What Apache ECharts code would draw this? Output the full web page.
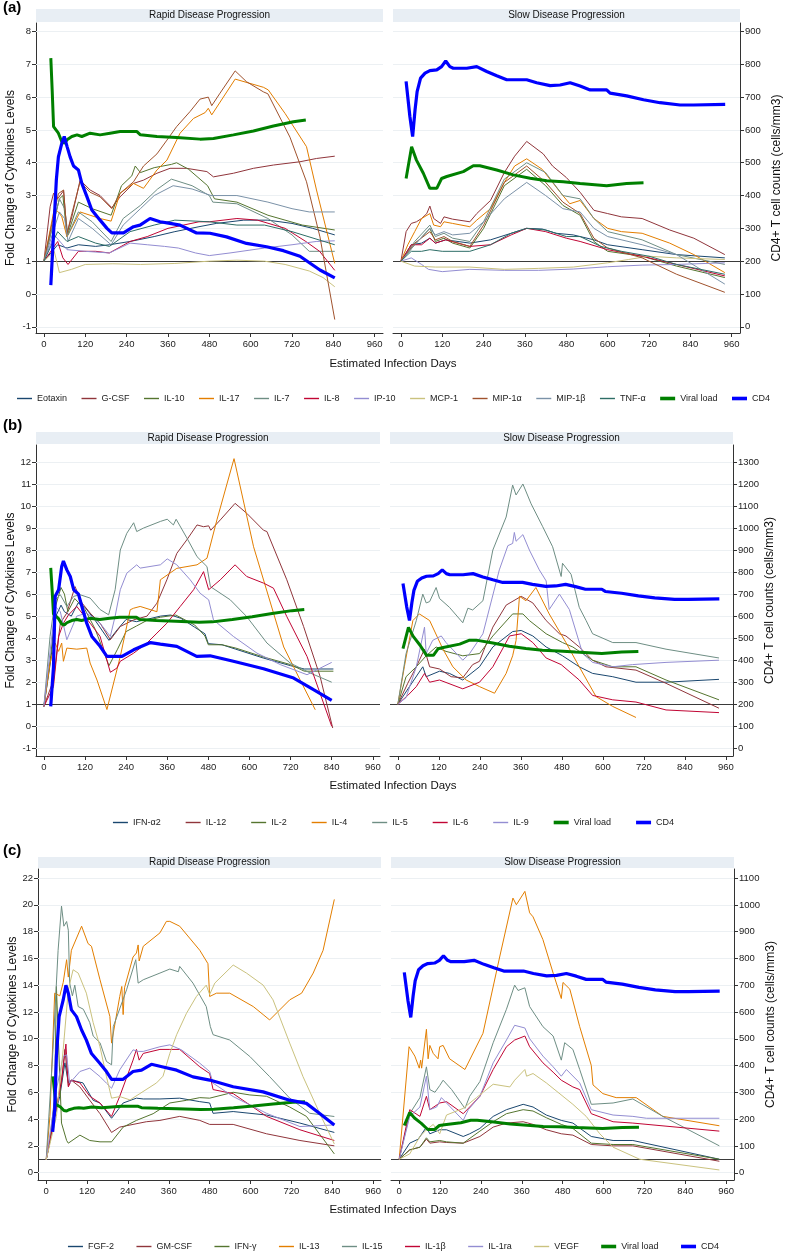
<!DOCTYPE html>
<html><head><meta charset="utf-8">
<script src="https://cdn.jsdelivr.net/npm/echarts@6/dist/echarts.min.js"></script>
<style>html,body{margin:0;padding:0;background:#fff}#c{width:787px;height:1259px}</style>
</head><body><div id="c"></div>
<script>
const FONT = '"Liberation Sans", Arial, sans-serif';
const xTicks = [0,120,240,360,480,600,720,840,960];

// ---------- shared lines ----------
const viralRapid = [[20,7.19],[24,6.2],[28,5.1],[35,5.0],[42,4.9],[52,4.64],[60,4.6],[67,4.7],[81,4.8],[96,4.85],[110,4.8],[134,4.9],[163,4.85],[192,4.9],[221,4.95],[270,4.95],[280,4.85],[328,4.8],[385,4.77],[453,4.72],[492,4.74],[550,4.85],[608,4.97],[666,5.12],[724,5.25],[760,5.3]];
const viralSlow = [[15,3.52],[31,4.49],[45,4.08],[65,3.68],[84,3.22],[104,3.22],[118,3.52],[133,3.58],[181,3.73],[210,3.91],[229,3.91],[278,3.78],[326,3.63],[375,3.53],[423,3.45],[471,3.42],[520,3.37],[597,3.3],[655,3.37],[704,3.39]];
const cd4Slow = [[15,748],[26,641],[34,580],[41,661],[47,717],[57,758],[70,773],[84,781],[104,783],[118,793],[130,810],[142,793],[152,788],[191,788],[220,793],[249,778],[278,765],[307,753],[365,753],[394,744],[433,735],[462,737],[491,744],[520,734],[549,722],[597,722],[607,712],[655,704],[704,692],[752,683],[810,676],[849,676],[941,678]];
const cd4RapidA = [[20,127],[28,285],[36,447],[42,518],[52,560],[59,580],[67,550],[76,518],[86,490],[100,478],[110,437],[125,396],[139,356],[163,325],[183,300],[197,286],[231,286],[260,305],[279,310],[308,330],[337,320],[366,315],[395,310],[443,286],[482,285],[530,274],[588,254],[646,244],[695,232],[743,215],[801,173],[844,149]];
const cd4RapidB = [[20,190],[28,370],[33,690],[43,720],[52,825],[57,850],[67,810],[77,780],[87,720],[101,700],[111,644],[125,568],[140,508],[164,463],[184,417],[228,417],[262,447],[311,480],[340,473],[388,463],[446,417],[485,420],[553,395],[641,361],[729,319],[787,266],[840,218]];
const cd4RapidC = [[19,153],[25,235],[30,435],[38,583],[50,645],[58,700],[65,670],[74,608],[89,583],[104,533],[118,495],[133,445],[158,408],[177,378],[192,349],[226,349],[255,378],[280,383],[309,405],[343,395],[383,383],[431,358],[480,346],[549,321],[637,302],[715,271],[764,259],[803,221],[846,178]];

// ---------- panel (a) ----------
const eotaxinR = [[0,1],[40,1.5],[67,1.4],[100,1.5],[150,1.45],[190,1.5],[250,1.6],[320,1.75],[380,1.9],[450,2.05],[500,2.15],[580,2.25],[650,2.25],[720,2.15],[780,2.0],[844,1.8]];
const gcsfR = [[0,1],[18,2.66],[28,3.07],[40,2.9],[57,3.15],[67,1.84],[81,2.35],[105,3.47],[134,3.17],[163,3.0],[197,2.63],[221,2.96],[260,3.37],[289,3.47],[328,3.68],[366,3.83],[414,3.83],[473,3.73],[492,3.57],[550,3.68],[608,3.83],[666,3.93],[743,4.03],[791,4.13],[844,4.2]];
const il10R = [[0,1],[45,2.9],[55,3.0],[67,1.75],[100,2.8],[140,2.6],[195,2.4],[225,3.3],[255,3.6],[265,3.9],[280,3.7],[320,3.85],[370,3.95],[385,4.0],[420,3.8],[475,3.3],[495,2.9],[560,2.8],[650,2.4],[750,2.1],[844,1.95]];
const il17R = [[0,1],[18,1.95],[30,2.6],[42,2.5],[52,2.35],[67,1.74],[105,2.5],[134,2.4],[163,2.3],[195,2.22],[221,3.07],[260,3.37],[289,3.22],[328,3.78],[357,4.08],[395,4.9],[434,5.35],[468,5.53],[477,5.66],[487,5.46],[555,6.55],[637,6.3],[651,6.22],[700,5.5],[762,4.49],[791,3.17],[844,0.93]];
const il7R = [[0,1],[45,2.9],[60,2.6],[70,1.8],[100,2.5],[140,2.2],[195,1.6],[230,2.3],[280,2.7],[330,3.2],[370,3.5],[430,3.3],[480,3.0],[490,2.8],[560,2.75],[650,2.3],[720,1.8],[770,1.3],[844,1.3]];
const il8R = [[0,1],[40,1.6],[55,1.1],[70,0.9],[100,1.3],[150,1.3],[190,1.25],[250,1.6],[300,1.75],[360,2.0],[450,2.2],[480,2.2],[560,2.3],[620,2.25],[700,2.0],[760,1.6],[800,1.3],[844,0.72]];
const ip10R = [[0,1],[30,1.8],[67,1.35],[120,1.3],[190,1.25],[250,1.55],[300,1.5],[350,1.45],[390,1.4],[440,1.25],[480,1.17],[540,1.25],[640,1.4],[720,1.5],[790,1.6],[844,1.62]];
const mcp1R = [[0,1],[30,1.3],[45,0.65],[80,0.75],[120,0.9],[200,0.92],[280,0.9],[380,0.93],[480,1.0],[560,1.03],[640,1.0],[700,0.9],[770,0.7],[810,0.5],[844,0.22]];
const mip1aR = [[0,1],[42,3.06],[57,3.17],[67,1.84],[81,2.45],[105,3.42],[134,3.1],[163,2.96],[197,2.6],[221,3.07],[260,3.42],[289,3.9],[328,4.27],[357,4.69],[385,5.1],[424,5.56],[453,5.94],[477,6.0],[487,5.74],[511,6.12],[555,6.8],[588,6.47],[637,6.16],[650,6.1],[714,4.78],[762,3.42],[801,1.74],[844,-0.78]];
const mip1bR = [[0,1],[45,2.5],[60,2.3],[70,1.6],[100,2.3],[140,2.0],[195,1.5],[230,2.1],[280,2.6],[320,3.0],[375,3.3],[430,3.2],[485,3.0],[560,3.0],[650,2.8],[720,2.6],[770,2.5],[844,2.5]];
const tnfaR = [[0,1],[40,1.9],[67,1.6],[100,1.75],[150,1.55],[190,1.45],[250,1.9],[320,2.1],[380,2.25],[480,2.2],[560,2.1],[640,2.1],[720,1.9],[844,1.5]];

const gcsfS = [[0,1],[15,1.9],[30,2.15],[45,2.2],[60,2.3],[75,2.45],[84,2.68],[95,2.3],[115,2.15],[125,2.35],[150,2.28],[200,2.2],[220,2.45],[260,2.85],[300,3.7],[330,4.2],[365,4.65],[413,4.27],[440,3.9],[480,3.55],[520,3.1],[560,2.55],[600,2.45],[640,2.35],[700,2.3],[780,1.95],[850,1.7],[940,1.2]];
const il17S = [[0,1],[20,1.5],[40,1.9],[60,2.3],[84,2.45],[95,2.1],[115,2.05],[125,2.2],[150,2.15],[200,2.05],[220,2.25],[260,2.6],[300,3.4],[330,3.9],[365,4.12],[410,3.8],[440,3.4],[470,3.0],[490,2.75],[520,2.85],[560,2.3],[600,2.0],[640,1.9],[700,1.85],[780,1.55],[850,1.2],[940,0.65]];
const mip1bS = [[0,1],[40,1.5],[84,2.0],[100,1.8],[125,1.9],[150,1.8],[200,1.85],[240,2.2],[300,2.9],[365,3.4],[420,3.0],[470,2.6],[520,2.5],[560,2.0],[600,1.75],[700,1.5],[800,1.2],[940,0.3]];
const il7S = [[0,1],[40,1.6],[84,2.1],[100,1.75],[125,1.85],[150,1.7],[200,1.6],[240,2.2],[300,3.5],[365,4.0],[420,3.7],[470,3.0],[520,2.9],[560,2.3],[600,1.9],[700,1.65],[800,1.2],[940,0.9]];
const il10S = [[0,1],[40,1.5],[84,2.0],[100,1.6],[125,1.7],[150,1.55],[200,1.4],[240,2.0],[300,3.3],[365,3.8],[420,3.3],[470,2.7],[520,2.4],[560,1.6],[600,1.3],[700,1.15],[800,0.85],[940,0.5]];
const mip1aS = [[0,1],[40,1.55],[84,1.9],[100,1.65],[125,1.75],[150,1.6],[200,1.45],[240,2.1],[300,3.4],[365,3.9],[420,3.4],[470,2.8],[520,2.45],[560,1.7],[600,1.4],[700,1.1],[800,0.6],[940,0.05]];
const tnfaS = [[0,1],[30,1.3],[60,1.3],[84,1.35],[120,1.3],[200,1.3],[260,1.5],[320,1.85],[365,2.0],[420,1.95],[480,1.75],[520,1.75],[580,1.45],[640,1.3],[720,1.15],[800,0.9],[940,0.6]];
const eotaxinS = [[0,1],[30,1.5],[60,1.55],[84,1.7],[100,1.55],[130,1.65],[200,1.55],[260,1.65],[320,1.85],[365,2.0],[410,1.98],[450,1.85],[500,1.8],[560,1.65],[600,1.5],[700,1.35],[800,1.2],[940,1.1]];
const il8S = [[0,1],[30,1.5],[60,1.5],[84,1.7],[100,1.55],[130,1.65],[200,1.45],[260,1.5],[320,1.8],[365,2.0],[420,1.9],[480,1.7],[520,1.6],[600,1.35],[700,1.15],[800,0.9],[940,0.55]];
const mcp1S = [[0,1],[40,0.85],[100,0.82],[200,0.82],[300,0.75],[400,0.78],[500,0.82],[600,0.95],[660,1.05],[720,1.15],[800,1.1],[940,1.05]];
const ip10S = [[0,1],[30,1.1],[60,0.9],[80,0.75],[120,0.68],[200,0.75],[300,0.72],[400,0.72],[500,0.76],[600,0.83],[700,0.88],[800,0.9],[940,0.95]];

// ---------- panel (b) ----------
const ifna2R = [[0,0.9],[20,3.0],[35,5.0],[50,5.5],[60,5.2],[80,5.0],[100,5.6],[120,5.4],[150,4.8],[190,3.9],[215,4.4],[240,4.85],[270,4.75],[300,4.85],[340,5.0],[370,5.05],[400,4.9],[440,4.5],[470,4.2],[480,3.75],[520,3.7],[560,3.5],[640,3.1],[720,2.75],[760,2.6],[845,2.6]];
const il12R = [[0,0.9],[28,2.1],[48,4.68],[67,5.14],[91,6.34],[111,5.6],[135,5.14],[164,4.68],[194,3.93],[223,4.53],[262,4.83],[301,5.0],[330,5.59],[359,6.65],[388,7.85],[417,8.46],[447,9.14],[466,9.06],[481,9.1],[487,8.9],[515,9.37],[558,10.12],[592,9.67],[641,8.9],[651,8.84],[709,6.65],[758,4.53],[806,2.27],[843,-0.08]];
const il2R = [[0,0.9],[20,3.2],[35,5.5],[50,6.3],[60,6.0],[70,5.2],[90,5.8],[120,5.3],[150,4.4],[190,2.75],[215,3.5],[240,4.3],[270,4.55],[300,4.8],[340,4.95],[385,5.05],[440,4.6],[470,4.1],[480,3.7],[520,3.7],[560,3.55],[640,3.15],[720,2.8],[760,2.5],[845,2.5]];
const il4R = [[0,0.9],[18,2.87],[33,3.78],[43,3.4],[52,3.78],[57,2.95],[67,3.55],[96,3.5],[125,3.55],[135,2.87],[155,2.1],[184,0.76],[223,3.17],[252,5.29],[262,5.36],[281,5.44],[330,5.2],[340,6.65],[388,7.17],[447,7.33],[476,7.63],[505,9.37],[555,12.15],[612,8.15],[700,3.6],[748,2.1],[792,0.75]];
const il5R = [[0,0.9],[18,4.08],[33,5.74],[48,5.97],[67,5.44],[87,5.9],[106,5.97],[135,5.82],[164,5.3],[189,5.06],[208,6.2],[223,8.0],[242,8.76],[262,9.24],[271,8.84],[291,9.0],[340,9.3],[360,9.4],[378,9.14],[386,9.4],[418,8.53],[447,7.7],[476,7.25],[486,6.34],[544,5.74],[592,4.98],[651,3.78],[719,2.87],[777,2.42],[840,2.0]];
const il6R = [[0,0.9],[28,1.8],[43,4.08],[57,4.68],[72,5.06],[96,5.44],[111,5.14],[135,4.68],[164,4.08],[194,2.45],[213,2.64],[223,2.95],[262,3.32],[301,3.78],[330,4.23],[359,4.68],[398,5.44],[437,6.2],[466,7.02],[481,6.2],[515,6.65],[558,7.33],[592,6.8],[641,6.5],[670,6.27],[709,4.98],[768,3.17],[840,0.0]];
const il9R = [[0,0.9],[33,5.44],[48,5.2],[67,3.93],[96,5.0],[125,5.14],[164,4.68],[194,4.08],[208,5.0],[223,6.2],[242,6.95],[271,7.33],[281,7.18],[340,7.33],[360,7.6],[388,7.33],[427,6.65],[456,6.04],[481,5.74],[495,4.83],[553,4.08],[622,3.32],[690,2.8],[768,2.34],[840,2.9]];

const ifna2S = [[0,1.0],[34,1.8],[73,2.7],[83,2.25],[122,2.5],[151,2.4],[190,2.1],[239,2.7],[278,3.6],[336,4.3],[361,4.35],[395,4.1],[434,3.6],[482,3.2],[531,2.7],[570,2.4],[629,2.25],[697,2.0],[785,2.0],[940,2.13]];
const il12S = [[0,1.0],[29,1.95],[54,2.7],[78,3.5],[93,2.7],[122,2.6],[156,2.25],[190,2.2],[219,2.8],[239,2.95],[278,4.5],[317,5.5],[361,5.9],[395,5.6],[434,4.8],[473,4.2],[492,4.1],[531,3.6],[570,3.0],[609,2.7],[697,2.55],[785,1.95],[940,0.82]];
const il2S = [[0,1.0],[24,2.25],[54,2.7],[83,3.2],[112,3.6],[141,3.4],[190,3.2],[239,3.3],[278,4.1],[336,5.1],[366,5.1],[385,4.8],[434,4.2],[482,3.8],[512,3.6],[570,3.0],[629,2.7],[697,2.7],[785,2.1],[940,1.2]];
const il4S = [[0,1.0],[19,2.7],[44,4.8],[63,5.1],[93,4.8],[132,3.5],[161,2.7],[200,2.1],[239,1.8],[283,1.5],[317,2.4],[336,3.2],[346,3.9],[356,5.9],[375,5.7],[404,6.3],[443,5.1],[492,3.8],[531,2.7],[580,1.35],[629,0.9],[697,0.4]];
const il5S = [[0,1.0],[24,3.3],[54,4.8],[73,6.0],[83,5.6],[93,5.66],[112,6.3],[122,5.8],[151,5.4],[190,4.7],[205,5.36],[219,5.28],[249,5.7],[278,8.0],[317,9.5],[336,10.95],[346,10.5],[366,11.0],[390,10.1],[424,9.06],[453,8.15],[478,6.8],[482,7.4],[507,6.9],[531,5.4],[551,4.8],[570,4.2],[629,3.8],[697,3.8],[785,3.5],[940,3.1]];
const il6S = [[0,1.0],[29,1.4],[54,1.8],[78,2.4],[93,2.0],[122,2.1],[190,1.7],[239,2.0],[278,2.7],[327,4.1],[361,4.2],[395,3.8],[434,3.1],[478,2.8],[531,2.1],[570,1.4],[629,1.2],[697,1.1],[785,0.74],[940,0.62]];
const il9S = [[0,1.0],[24,1.3],[54,2.7],[78,4.5],[83,3.3],[102,3.9],[127,4.1],[141,3.8],[190,3.0],[210,3.3],[249,4.2],[297,7.1],[322,8.2],[336,8.3],[341,8.8],[346,8.4],[366,8.7],[385,8.0],[414,7.1],[434,6.6],[443,5.3],[473,6.0],[502,5.3],[541,3.3],[570,2.9],[629,2.7],[687,2.8],[785,2.9],[940,3.0]];

// ---------- panel (c) ----------
const fgf2R = [[0,0.95],[25,4.2],[40,5.7],[55,8.2],[65,6.7],[74,6.9],[108,6.7],[138,5.4],[158,5.2],[192,4.06],[226,5.2],[265,5.56],[285,5.5],[334,5.5],[392,5.56],[451,5.3],[480,5.2],[490,4.43],[549,4.56],[647,4.3],[745,3.7],[846,3.0]];
const gmcsfR = [[0,0.95],[25,4.2],[45,6.7],[55,9.2],[65,6.5],[74,6.9],[99,6.4],[128,5.4],[158,4.4],[192,3.0],[216,3.4],[255,3.6],[294,3.8],[334,3.9],[392,4.2],[451,3.9],[480,3.6],[549,3.6],[647,2.9],[745,2.4],[846,2.0]];
const ifngR = [[0,0.95],[11,2.4],[25,5.7],[30,13.9],[45,3.7],[60,2.4],[65,2.2],[99,2.8],[128,2.4],[158,2.3],[192,2.3],[226,3.4],[265,3.9],[314,4.4],[363,5.2],[412,5.4],[451,5.6],[480,5.56],[549,6.0],[598,5.8],[647,5.7],[715,4.9],[764,4.2],[846,1.4]];
const il13R = [[0,0.95],[11,4.2],[25,13.4],[40,13.2],[50,14.2],[60,15.9],[65,14.6],[74,16.6],[104,18.4],[123,17.1],[133,16.9],[158,14.4],[187,11.66],[192,9.67],[216,13.15],[222,13.9],[226,11.8],[230,13.8],[255,16.1],[265,16.4],[270,17.0],[273,15.8],[285,16.9],[334,17.9],[353,18.76],[363,18.76],[392,18.4],[451,16.6],[475,15.6],[480,13.15],[500,13.4],[539,13.4],[608,12.4],[637,11.8],[656,11.4],[715,12.9],[750,13.4],[784,14.9],[813,16.6],[846,20.4]];
const il15R = [[0,0.95],[20,9.2],[35,16.6],[45,19.9],[52,18.4],[60,18.75],[65,18.1],[69,14.15],[77,13.2],[84,14.0],[94,12.4],[109,12.2],[128,11.2],[138,10.2],[158,9.7],[177,8.3],[192,8.05],[197,10.9],[236,13.65],[263,15.9],[270,14.15],[285,14.4],[334,14.9],[363,15.2],[388,15.0],[392,15.4],[431,14.15],[470,12.4],[482,10.9],[490,10.3],[539,9.9],[598,8.67],[656,7.17],[715,5.56],[774,4.43],[846,4.19]];
const il1bR = [[0,0.95],[25,4.2],[45,6.9],[58,9.6],[65,6.4],[74,6.9],[99,6.7],[128,5.7],[158,5.2],[192,4.2],[216,5.7],[255,8.4],[265,9.2],[273,8.4],[285,8.9],[334,9.2],[363,9.2],[392,9.2],[451,7.9],[480,7.4],[490,6.2],[549,5.9],[647,4.2],[745,3.2],[846,2.4]];
const il1raR = [[0,0.95],[30,6.2],[50,8.67],[60,8.8],[69,6.68],[99,7.55],[128,7.8],[158,7.17],[177,6.68],[192,6.3],[216,7.67],[255,9.17],[270,9.05],[285,9.05],[334,9.4],[363,9.54],[397,9.17],[451,8.17],[480,7.55],[490,6.68],[549,5.68],[647,4.43],[745,3.44],[846,3.56]];
const vegfR = [[0,0.95],[30,4.2],[50,9.2],[65,13.65],[79,15.15],[94,14.9],[118,13.4],[138,11.2],[158,9.4],[177,7.17],[192,5.56],[216,5.68],[246,5.43],[275,5.9],[324,6.7],[343,7.2],[363,8.9],[383,10.3],[412,11.9],[441,13.15],[470,14.0],[480,13.3],[495,14.15],[549,15.5],[588,14.9],[637,14.0],[666,12.9],[715,9.67],[754,7.17],[803,4.43],[846,2.14]];

const fgf2S = [[0,1.0],[31,2.2],[56,2.5],[80,3.4],[90,2.9],[119,3.2],[139,3.2],[188,2.7],[207,2.9],[237,3.3],[276,4.2],[315,4.7],[364,5.1],[393,4.9],[432,4.3],[476,3.9],[510,3.7],[564,2.7],[628,2.4],[686,2.4],[940,1.0]];
const gmcsfS = [[0,1.0],[31,1.7],[61,1.9],[80,2.5],[90,2.2],[119,2.3],[139,2.25],[188,2.2],[237,2.7],[276,3.4],[315,3.7],[364,3.8],[393,3.6],[432,3.2],[476,2.9],[510,2.8],[564,2.1],[628,2.0],[686,2.0],[940,0.85]];
const ifngS = [[0,1.0],[31,1.7],[61,1.9],[80,2.6],[90,2.3],[119,2.4],[139,2.3],[188,2.2],[237,3.1],[276,3.8],[315,4.4],[364,4.7],[393,4.6],[432,4.1],[476,3.6],[510,3.3],[564,2.2],[628,2.1],[686,2.1],[940,1.0]];
const il13S = [[0,1.0],[29,9.4],[46,8.7],[59,7.8],[63,8.4],[66,7.8],[80,10.7],[85,8.5],[90,9.5],[100,8.9],[114,8.5],[119,9.4],[129,9.5],[148,8.5],[193,7.7],[246,10.4],[295,16.1],[334,20.5],[344,20.0],[369,21.0],[383,19.4],[393,19.1],[422,17.4],[452,14.9],[476,13.0],[481,14.2],[501,13.7],[530,10.9],[564,8.0],[569,6.55],[598,5.9],[637,5.6],[696,5.6],[774,4.2],[940,3.5]];
const il15S = [[0,1.0],[31,4.4],[61,5.6],[80,7.9],[90,6.2],[105,6.0],[119,6.5],[129,6.9],[154,6.2],[193,4.8],[207,5.7],[237,6.8],[276,9.7],[315,12.2],[339,14.0],[349,13.6],[369,13.8],[383,12.4],[422,10.9],[452,10.2],[476,8.4],[486,9.7],[510,9.2],[530,7.7],[564,5.1],[628,5.2],[686,5.5],[774,4.2],[940,2.0]];
const il1bS = [[0,1.0],[31,4.7],[61,4.2],[80,5.7],[90,4.7],[119,5.2],[139,5.3],[188,4.4],[207,4.9],[237,5.7],[276,7.7],[315,9.4],[339,9.9],[344,9.8],[369,10.2],[383,9.4],[422,8.2],[452,7.5],[476,6.9],[510,6.4],[515,6.5],[530,6.2],[564,4.4],[628,3.8],[686,3.7],[940,3.1]];
const il1raS = [[0,1.0],[31,4.2],[61,4.9],[80,7.2],[90,4.7],[110,4.9],[124,5.6],[139,5.2],[188,3.9],[203,4.7],[237,5.7],[276,8.2],[315,9.9],[339,11.0],[369,10.8],[383,10.0],[422,8.7],[452,7.9],[476,7.2],[491,7.7],[530,6.7],[564,4.7],[628,4.3],[686,4.2],[726,4.06],[940,4.06]];
const vegfS = [[0,1.0],[31,1.4],[61,2.7],[80,3.2],[100,3.6],[119,2.9],[139,4.3],[188,4.8],[227,5.6],[276,6.6],[325,6.4],[339,6.9],[369,7.7],[374,7.2],[393,7.4],[432,6.7],[510,5.1],[549,4.2],[589,2.9],[628,1.9],[706,1.0],[940,0.2]];

// ---------- styling ----------
const C = {navy:'#1a476f', maroon:'#90353b', forest:'#55752f', orange:'#e37e00', teal:'#6e8e84', cran:'#c10534', lav:'#938dd2', khaki:'#cac27e', sienna:'#a0522d', emid:'#7b92a8', emer:'#2d6d66'};
const VIRAL = '#008000', CD4COL = '#0000ff';

const panels = [
  { label:'(a)', labelY:8, stripTop:9, top:23, bottom:333, rapid:[36,383], slow:[393,740],
    x:[-23,984], fold:[-1.19,8.26], cells:[-19,926],
    foldTicks:[-1,0,1,2,3,4,5,6,7,8], cellTicks:[0,100,200,300,400,500,600,700,800,900],
    xTitleY:364, legendY:398, legendGap:14.5, cd4Rapid:cd4RapidA,
    cytos:[
      {name:'Eotaxin', color:C.navy, r:eotaxinR, s:eotaxinS},
      {name:'G-CSF', color:C.maroon, r:gcsfR, s:gcsfS},
      {name:'IL-10', color:C.forest, r:il10R, s:il10S},
      {name:'IL-17', color:C.orange, r:il17R, s:il17S},
      {name:'IL-7', color:C.teal, r:il7R, s:il7S},
      {name:'IL-8', color:C.cran, r:il8R, s:il8S},
      {name:'IP-10', color:C.lav, r:ip10R, s:ip10S},
      {name:'MCP-1', color:C.khaki, r:mcp1R, s:mcp1S},
      {name:'MIP-1α', color:C.sienna, r:mip1aR, s:mip1aS},
      {name:'MIP-1β', color:C.emid, r:mip1bR, s:mip1bS},
      {name:'TNF-α', color:C.emer, r:tnfaR, s:tnfaS}
    ]},
  { label:'(b)', labelY:426, stripTop:432, top:445, bottom:756, rapid:[36,380], slow:[390,733],
    x:[-23,981], fold:[-1.35,12.77], cells:[-35,1377],
    foldTicks:[-1,0,1,2,3,4,5,6,7,8,9,10,11,12], cellTicks:[0,100,200,300,400,500,600,700,800,900,1000,1100,1200,1300],
    xTitleY:786, legendY:822, legendGap:25, cd4Rapid:cd4RapidB,
    cytos:[
      {name:'IFN-α2', color:C.navy, r:ifna2R, s:ifna2S},
      {name:'IL-12', color:C.maroon, r:il12R, s:il12S},
      {name:'IL-2', color:C.forest, r:il2R, s:il2S},
      {name:'IL-4', color:C.orange, r:il4R, s:il4S},
      {name:'IL-5', color:C.teal, r:il5R, s:il5S},
      {name:'IL-6', color:C.cran, r:il6R, s:il6S},
      {name:'IL-9', color:C.lav, r:il9R, s:il9S}
    ]},
  { label:'(c)', labelY:851, stripTop:857, top:869, bottom:1180, rapid:[38,381], slow:[391,734],
    x:[-24,983], fold:[-0.55,22.67], cells:[-27,1134],
    foldTicks:[0,2,4,6,8,10,12,14,16,18,20,22], cellTicks:[0,100,200,300,400,500,600,700,800,900,1000,1100],
    xTitleY:1210, legendY:1246, legendGap:22.5, cd4Rapid:cd4RapidC,
    cytos:[
      {name:'FGF-2', color:C.navy, r:fgf2R, s:fgf2S},
      {name:'GM-CSF', color:C.maroon, r:gmcsfR, s:gmcsfS},
      {name:'IFN-γ', color:C.forest, r:ifngR, s:ifngS},
      {name:'IL-13', color:C.orange, r:il13R, s:il13S},
      {name:'IL-15', color:C.teal, r:il15R, s:il15S},
      {name:'IL-1β', color:C.cran, r:il1bR, s:il1bS},
      {name:'IL-1ra', color:C.lav, r:il1raR, s:il1raS},
      {name:'VEGF', color:C.khaki, r:vegfR, s:vegfS}
    ]}
];

const grids = [], xAxes = [], yAxes = [], series = [], legends = [], graphics = [];
const AX = '#333', LBL = '#222', GRIDC = '#ecf0f3';
const THIN = 'path://M0 0H15V1.4H0Z', THICK = 'path://M0 0H15V3.6H0Z';
const plain = v => String(v);

panels.forEach((p, pi) => {
  ['rapid','slow'].forEach((side, si) => {
    const g = pi*2 + si;
    const [l, r] = p[side];
    grids.push({left:l, top:p.top, width:r-l, height:p.bottom-p.top});
    xAxes.push({type:'value', gridIndex:g, min:p.x[0], max:p.x[1],
      axisLine:{show:true, onZero:false, lineStyle:{color:AX, width:1}},
      axisTick:{show:true, customValues:xTicks, length:4, lineStyle:{color:AX}},
      axisLabel:{customValues:xTicks, formatter:plain, fontSize:9.5, color:LBL, margin:6, fontFamily:FONT},
      splitLine:{show:false}});
    const isR = side === 'rapid';
    yAxes.push({type:'value', gridIndex:g, position:'left', min:p.fold[0], max:p.fold[1], show:isR,
      axisLine:{show:true, onZero:false, lineStyle:{color:AX, width:1}},
      axisTick:{show:true, customValues:p.foldTicks, length:4, lineStyle:{color:AX}},
      axisLabel:{customValues:p.foldTicks, formatter:plain, fontSize:9.5, color:LBL, margin:5, fontFamily:FONT},
      splitLine:{show:false},
      name:'Fold Change of Cytokines Levels', nameLocation:'middle', nameRotate:90, nameGap:19,
      nameTextStyle:{fontSize:12, color:'#111', fontFamily:FONT}});
    yAxes.push({type:'value', gridIndex:g, position:'right', min:p.cells[0], max:p.cells[1], show:!isR,
      axisLine:{show:true, onZero:false, lineStyle:{color:AX, width:1}},
      axisTick:{show:true, customValues:p.cellTicks, length:4, lineStyle:{color:AX}},
      axisLabel:{customValues:p.cellTicks, formatter:plain, fontSize:9.5, color:LBL, margin:5, fontFamily:FONT},
      splitLine:{show:false},
      name:'CD4+ T cell counts (cells/mm3)', nameLocation:'middle', nameRotate:90, nameGap:31,
      nameTextStyle:{fontSize:12, color:'#111', fontFamily:FONT}});
    const yF = g*2, yC = g*2+1;
    series.push({type:'line', xAxisIndex:g, yAxisIndex:yF, data:[], silent:true,
      markLine:{silent:true, symbol:'none', z:1, animation:false, label:{show:false},
        data:[...p.foldTicks.filter(v=>v!==1).map(v=>({yAxis:v, lineStyle:{color:GRIDC, width:1, type:'solid'}})),
              {yAxis:1, lineStyle:{color:'#3a3a3a', width:1.1, type:'solid'}}]}});
    p.cytos.forEach(c => {
      series.push({name:c.name, type:'line', xAxisIndex:g, yAxisIndex:yF, data: isR ? c.r : c.s,
        showSymbol:false, symbol:'none', animation:false, z:2,
        lineStyle:{color:c.color, width:1}, itemStyle:{color:c.color}});
    });
    series.push({name:'Viral load', type:'line', xAxisIndex:g, yAxisIndex:yF, data: isR ? viralRapid : viralSlow,
      showSymbol:false, symbol:'none', animation:false, z:3,
      lineStyle:{color:VIRAL, width:3}, itemStyle:{color:VIRAL}});
    series.push({name:'CD4', type:'line', xAxisIndex:g, yAxisIndex:yC, data: isR ? p.cd4Rapid : cd4Slow,
      showSymbol:false, symbol:'none', animation:false, z:4,
      lineStyle:{color:CD4COL, width:3.2}, itemStyle:{color:CD4COL}});
    graphics.push({type:'rect', shape:{x:l, y:p.stripTop, width:r-l, height:p.top-p.stripTop-1}, style:{fill:'#e8eef4'}, silent:true});
    graphics.push({type:'text', x:(l+r)/2, y:(p.stripTop+p.top-1)/2, silent:true,
      style:{text: isR ? 'Rapid Disease Progression' : 'Slow Disease Progression', font:'10px '+FONT, fill:'#111', textAlign:'center', textVerticalAlign:'middle'}});
  });
  graphics.push({type:'text', x:3, y:p.labelY, silent:true,
    style:{text:p.label, font:'bold 15px '+FONT, fill:'#000', textAlign:'left', textVerticalAlign:'middle'}});
  graphics.push({type:'text', x:393, y:p.xTitleY, silent:true,
    style:{text:'Estimated Infection Days', font:'11.5px '+FONT, fill:'#111', textAlign:'center', textVerticalAlign:'middle'}});
  legends.push({top:p.legendY-9, left:'center', itemGap:p.legendGap, itemWidth:15, itemHeight:6, selectedMode:false,
    textStyle:{fontSize:9, color:'#222', fontFamily:FONT},
    data:[...p.cytos.map(c=>({name:c.name, icon:THIN})), {name:'Viral load', icon:THICK}, {name:'CD4', icon:THICK}]});
});

const chart = echarts.init(document.getElementById('c'), null, {renderer:'canvas'});
chart.setOption({
  animation:false, backgroundColor:'#fff',
  textStyle:{fontFamily:FONT},
  grid:grids, xAxis:xAxes, yAxis:yAxes, series:series, legend:legends, graphic:graphics
});
</script></body></html>
